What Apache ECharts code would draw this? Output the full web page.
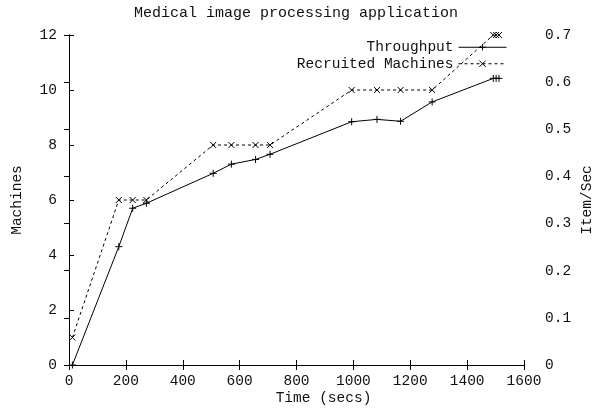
<!DOCTYPE html>
<html><head><meta charset="utf-8">
<script src="https://cdn.jsdelivr.net/npm/echarts@6/dist/echarts.min.js"></script>
<style>html,body{margin:0;padding:0;background:#fff}#c{width:592px;height:411px}</style>
</head><body><div id="c"></div>
<script>
const titleText = "Medical image processing application";
const timeSecs = [12, 175, 224, 272, 507, 571, 656, 707, 994, 1083, 1166, 1277, 1492, 1502, 1512];
const throughput = [0, 0.251, 0.3325, 0.343, 0.4066, 0.426, 0.436, 0.447, 0.516, 0.521, 0.517, 0.558, 0.608, 0.608, 0.608];
const machines = [1, 6, 6, 6, 8, 8, 8, 8, 10, 10, 10, 10, 12, 12, 12];
const seriesNames = ["Throughput", "Recruited Machines"];

const FONT = "Liberation Mono";
const FS = 14.5;
const txt = {fontFamily: FONT, fontSize: FS, color: '#111'};
const chart = echarts.init(document.getElementById('c'), null, {renderer: 'canvas'});
const plus = 'path://M5,0L5,10M0,5L10,5';
const cross = 'path://M0,0L10,10M0,10L10,0';
chart.setOption({
  animation: false,
  backgroundColor: '#fff',
  title: {text: titleText, left: 'center', top: 1, textStyle: Object.assign({}, txt, {fontWeight: 'normal', fontSize: 15})},
  grid: {left: 69, right: 68, top: 35, bottom: 46, containLabel: false, outerBoundsMode: 'none'},
  legend: {
    right: 85, top: 39, orient: 'vertical', align: 'right', itemGap: 0,
    itemWidth: 48, itemHeight: 8, padding: 0,
    textStyle: Object.assign({lineHeight: 16.5}, txt),
    lineStyle: {width: 1},
    itemStyle: {borderWidth: 1},
    data: seriesNames
  },
  xAxis: [{
    type: 'value', min: 0, max: 1600, interval: 200, position: 'bottom',
    name: 'Time (secs)', nameLocation: 'middle', nameGap: 26, nameMoveOverlap: false,
    nameTextStyle: Object.assign({padding: [0, 0, 0, 54]}, txt),
    axisLine: {show: true, lineStyle: {color: '#000', width: 1}},
    axisTick: {show: true, inside: true, length: 5, lineStyle: {color: '#000'}},
    axisLabel: Object.assign({margin: 9, formatter: v => String(v)}, txt),
    splitLine: {show: false}
  }, {
    type: 'value', min: 0, max: 1600, interval: 200, position: 'top',
    axisLine: {show: true, lineStyle: {color: '#000', width: 1}},
    axisTick: {show: true, inside: true, length: 5, lineStyle: {color: '#000'}},
    axisLabel: {show: false}, splitLine: {show: false}
  }],
  yAxis: [{
    type: 'value', min: 0, max: 12, interval: 2, position: 'left',
    name: 'Machines', nameLocation: 'middle', nameRotate: 90, nameGap: 44, nameMoveOverlap: false, nameTextStyle: txt,
    axisLine: {show: true, lineStyle: {color: '#000', width: 1}},
    axisTick: {show: true, inside: true, length: 5, lineStyle: {color: '#000'}},
    axisLabel: Object.assign({margin: 12}, txt),
    splitLine: {show: false}
  }, {
    type: 'value', min: 0, max: 0.7, interval: 0.1, position: 'right',
    name: 'Item/Sec', nameLocation: 'middle', nameRotate: 90, nameGap: 56, nameMoveOverlap: false, nameTextStyle: txt,
    axisLine: {show: true, lineStyle: {color: '#000', width: 1}},
    axisTick: {show: true, inside: true, length: 5, lineStyle: {color: '#000'}},
    axisLabel: Object.assign({margin: 21, formatter: v => v === 0 ? '0' : v.toFixed(1)}, txt),
    splitLine: {show: false}
  }],
  series: [{
    name: seriesNames[0], type: 'line', xAxisIndex: 0, yAxisIndex: 1,
    data: timeSecs.map((t, i) => [t, throughput[i]]),
    symbol: plus, symbolSize: 7, showAllSymbol: true,
    lineStyle: {color: '#000', width: 1, type: 'solid'},
    itemStyle: {color: 'transparent', borderColor: '#000', borderWidth: 1}
  }, {
    name: seriesNames[1], type: 'line', xAxisIndex: 0, yAxisIndex: 0,
    data: timeSecs.map((t, i) => [t, machines[i]]),
    symbol: cross, symbolSize: 6, showAllSymbol: true,
    lineStyle: {color: '#000', width: 1, type: [3, 3]},
    itemStyle: {color: 'transparent', borderColor: '#000', borderWidth: 1}
  }]
});
</script></body></html>
